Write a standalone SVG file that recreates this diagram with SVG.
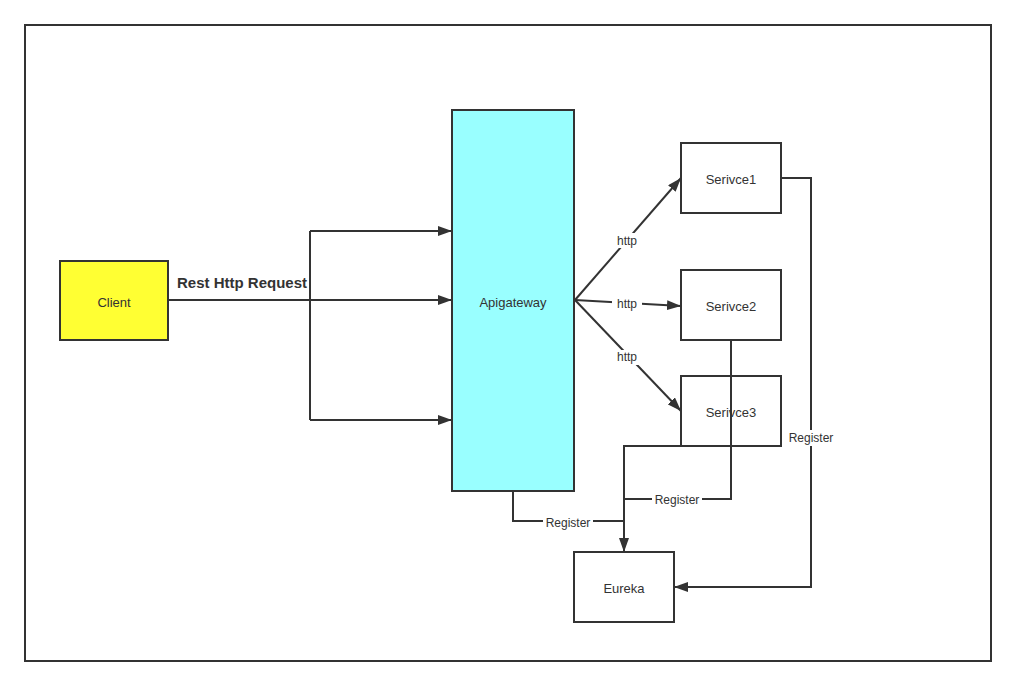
<svg xmlns="http://www.w3.org/2000/svg" width="1016" height="686" viewBox="0 0 1016 686">
<defs>
<marker id="ah" viewBox="0 0 14 10" refX="14" refY="5" markerWidth="14" markerHeight="10" markerUnits="userSpaceOnUse" orient="auto">
<path d="M0,0 L14,5 L0,10 Z" fill="#333"/>
</marker>
</defs>
<style>
.node{stroke:#333;stroke-width:2}
.t{font-family:"Liberation Sans","Open Sans",sans-serif;font-size:13px;fill:#333;text-anchor:middle;dominant-baseline:central}
.c{fill:none;stroke:#333;stroke-width:2}
.lbl{font-family:"Liberation Sans","Open Sans",sans-serif;font-size:12px;fill:#333;text-anchor:middle;dominant-baseline:central}
.bg{fill:#fff}
</style>
<rect x="0" y="0" width="1016" height="686" fill="#fff"/>
<rect x="25" y="25" width="966" height="636" fill="none" stroke="#333" stroke-width="2"/>
<g id="connectors">
<path class="c" d="M168,300 H310" stroke-width="3"/>
<path class="c" d="M310,231 V420"/>
<path class="c" d="M310,231 H452" marker-end="url(#ah)"/>
<path class="c" d="M310,300 H452" marker-end="url(#ah)"/>
<path class="c" d="M310,420 H452" marker-end="url(#ah)"/>
<path class="c" d="M575,300 L681,178" marker-end="url(#ah)"/>
<path class="c" d="M575,300 L681,306" marker-end="url(#ah)"/>
<path class="c" d="M575,300 L681,411" marker-end="url(#ah)"/>
<path class="c" d="M781,178 H811 V587 H674" marker-end="url(#ah)"/>
<path class="c" d="M731,340 V499 H624"/>
<path class="c" d="M731,446 H624 V552" marker-end="url(#ah)"/>
<path class="c" d="M513,491 V521 H624"/>
<rect class="bg" x="612" y="233" width="30" height="15"/>
<text class="lbl" x="627" y="241">http</text>
<rect class="bg" x="612" y="297" width="30" height="15"/>
<text class="lbl" x="627" y="304">http</text>
<rect class="bg" x="612" y="350" width="30" height="15"/>
<text class="lbl" x="627" y="357">http</text>
<rect class="bg" x="786" y="430" width="50" height="16"/>
<text class="lbl" x="811" y="438">Register</text>
<rect class="bg" x="652" y="492" width="50" height="16"/>
<text class="lbl" x="677" y="500">Register</text>
<rect class="bg" x="543" y="515" width="50" height="16"/>
<text class="lbl" x="568" y="523">Register</text>
<text x="242" y="282" font-family="'Liberation Sans','Open Sans',sans-serif" font-size="15" font-weight="bold" fill="#333" text-anchor="middle" dominant-baseline="central">Rest Http Request</text>
</g>
<g id="client"><rect class="node" x="60" y="261" width="108" height="79" fill="#ffff33"/><text class="t" x="114" y="302">Client</text></g>
<g id="apigateway"><rect class="node" x="452" y="110" width="122" height="381" fill="#99ffff"/><text class="t" x="513" y="302">Apigateway</text></g>
<g id="service1"><rect class="node" x="681" y="143" width="100" height="70" fill="#fff"/><text class="t" x="731" y="179">Serivce1</text></g>
<g id="service2"><rect class="node" x="681" y="270" width="100" height="70" fill="#fff"/><text class="t" x="731" y="306">Serivce2</text></g>
<g id="service3"><rect class="node" x="681" y="376" width="100" height="70" fill="none"/><text class="t" x="731" y="412">Serivce3</text></g>
<g id="eureka"><rect class="node" x="574" y="552" width="100" height="70" fill="#fff"/><text class="t" x="624" y="588">Eureka</text></g>
</svg>
